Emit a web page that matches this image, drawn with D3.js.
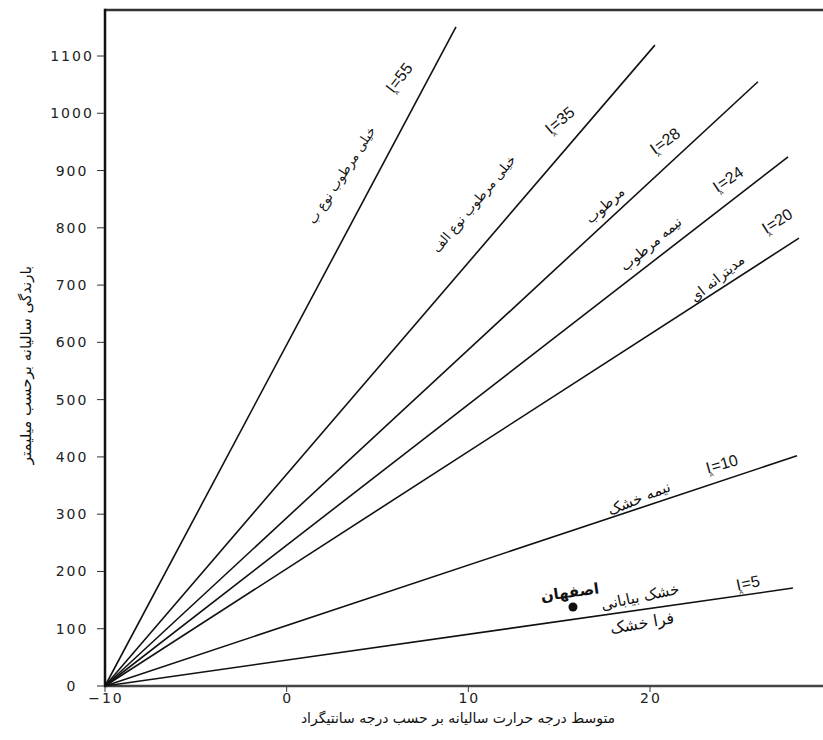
<!DOCTYPE html>
<html>
<head>
<meta charset="utf-8">
<script src="https://cdn.jsdelivr.net/npm/d3@7/dist/d3.min.js"></script>
<style>
  html, body { margin: 0; padding: 0; background: #fff; }
  svg { display: block; }
  .tick-label { font-family: "DejaVu Sans", sans-serif; font-size: 14px; fill: #222; letter-spacing: 2px; }
  .fa { font-family: "DejaVu Sans", sans-serif; fill: #111; }
  .idx { font-family: "Liberation Sans", Arial, sans-serif; font-size: 16px; fill: #111; }
</style>
</head>
<body>
<svg id="chart" width="823" height="740"></svg>
<script>
// ---- data ----
const indexValues = [55, 35, 28, 24, 20, 10, 5];          // de Martonne index I
const lineEndT    = [9.32, 20.27, 25.94, 27.6, 28.2, 28.09, 27.87]; // line end temperature (°C)
const lineEndP    = [1151, 1119, 1055, 924, 782, 402, 171];          // line end precipitation (mm)
const originT = -10, originP = 0;

const xTicks = [-10, 0, 10, 20];
const yTicks = [0, 100, 200, 300, 400, 500, 600, 700, 800, 900, 1000, 1100];

// index labels (anchor in data units, rotation)
const idxLabelT = [6.18, 15.03, 20.82, 24.29, 26.99, 23.96, 25.39];
const idxLabelP = [1062, 988, 952, 885, 812, 388, 180];
const idxLabelAngle = [-52, -40, -36, -34, -32, -16, -12];

// climate zone labels
const zoneNames = ["خیلی مرطوب نوع ب", "خیلی مرطوب نوع الف", "مرطوب", "نیمه مرطوب", "مدیترانه ای", "نیمه خشک", "خشک بیابانی", "فرا خشک"];
const zoneT = [3.02, 10.3, 17.52, 20.05, 23.69, 19.39, 19.45, 19.56];
const zoneP = [892, 842, 840, 772, 712, 328, 156, 110];
const zoneAngle = [-57, -50, -42, -40, -39, -22, -12, -10];

// station
const stationName = "اصفهان";
const stationT = 15.76, stationP = 138;
const stationLabelT = 15.59, stationLabelP = 164;

const xTitle = "متوسط درجه حرارت سالیانه بر حسب درجه سانتیگراد";
const yTitle = "بارندگی سالیانه برحسب میلیمتر";

// ---- scales ----
const svg = d3.select("#chart");
const x = d3.scaleLinear().domain([-10, 20]).range([105, 650]);
const y = d3.scaleLinear().domain([0, 1100]).range([686, 56]);
const xMaxPx = 823, yTopPx = 10;
const zoneFont = [13, 13, 14, 14, 14, 15, 15, 16];

// ---- frame ----
svg.append("line").attr("x1", x(-10)).attr("x2", xMaxPx).attr("y1", yTopPx).attr("y2", yTopPx)
  .attr("stroke", "#333").attr("stroke-width", 2.5);
svg.append("line").attr("x1", x(-10)).attr("x2", xMaxPx).attr("y1", y(0)).attr("y2", y(0))
  .attr("stroke", "#444").attr("stroke-width", 2.5);
svg.append("line").attr("x1", x(-10)).attr("x2", x(-10)).attr("y1", yTopPx - 1.2).attr("y2", y(0) + 1.2)
  .attr("stroke", "#111").attr("stroke-width", 2.5);

// ---- axes ----
const yAxis = svg.append("g");
yTicks.forEach(v => {
  yAxis.append("line").attr("x1", x(-10) - 8).attr("x2", x(-10) - 1).attr("y1", y(v)).attr("y2", y(v))
    .attr("stroke", "#333").attr("stroke-width", 1);
  yAxis.append("text").attr("class", "tick-label")
    .attr("x", 72).attr("y", y(v)).attr("dy", "0.36em").attr("text-anchor", "middle")
    .text(v);
});
const xAxis = svg.append("g");
xTicks.forEach(v => {
  xAxis.append("line").attr("x1", x(v)).attr("x2", x(v)).attr("y1", y(0) + 1).attr("y2", y(0) + 6)
    .attr("stroke", "#333").attr("stroke-width", 1);
  xAxis.append("text").attr("class", "tick-label")
    .attr("x", x(v) + 1).attr("y", y(0) + 12).attr("dy", "0.36em").attr("text-anchor", "middle")
    .text(v < 0 ? "\u2212" + Math.abs(v) : v);
});

// ---- index lines ----
svg.append("g").selectAll("line").data(indexValues).join("line")
  .attr("x1", x(originT)).attr("y1", y(originP))
  .attr("x2", (d, i) => x(lineEndT[i])).attr("y2", (d, i) => y(lineEndP[i]))
  .attr("stroke", "#111").attr("stroke-width", 1.6);

// ---- index labels ----
indexValues.forEach((v, i) => {
  const t = svg.append("text").attr("class", "idx")
    .attr("transform", `translate(${x(idxLabelT[i])},${y(idxLabelP[i])}) rotate(${idxLabelAngle[i]})`)
    .attr("text-anchor", "middle").attr("dy", "0.35em");
  t.append("tspan").text("I");
  t.append("tspan").attr("font-size", 6).attr("dx", -3).attr("dy", 4).text("A");
  t.append("tspan").attr("dy", -4).attr("dx", 0).text("=" + v);
});

// ---- zone labels ----
zoneNames.forEach((name, i) => {
  svg.append("text").attr("class", "fa")
    .attr("font-size", zoneFont[i])
    .attr("transform", `translate(${x(zoneT[i])},${y(zoneP[i])}) rotate(${zoneAngle[i]})`)
    .attr("text-anchor", "middle").attr("dy", "0.35em")
    .attr("direction", "rtl")
    .text(name);
});

// ---- station ----
svg.append("circle").attr("cx", x(stationT)).attr("cy", y(stationP)).attr("r", 4.5).attr("fill", "#111");
svg.append("text").attr("class", "fa").attr("font-size", 15).attr("font-weight", "bold")
  .attr("transform", `translate(${x(stationLabelT)},${y(stationLabelP)}) rotate(-8)`)
  .attr("text-anchor", "middle").attr("dy", "0.35em").attr("direction", "rtl")
  .text(stationName);

// ---- axis titles ----
svg.append("text").attr("class", "fa").attr("font-size", 14)
  .attr("x", 458).attr("y", 723).attr("text-anchor", "middle").attr("direction", "rtl")
  .text(xTitle);
svg.append("text").attr("class", "fa").attr("font-size", 15)
  .attr("transform", "translate(26,365) rotate(-90)")
  .attr("text-anchor", "middle").attr("dy", "0.35em").attr("direction", "rtl")
  .text(yTitle);
</script>
</body>
</html>
